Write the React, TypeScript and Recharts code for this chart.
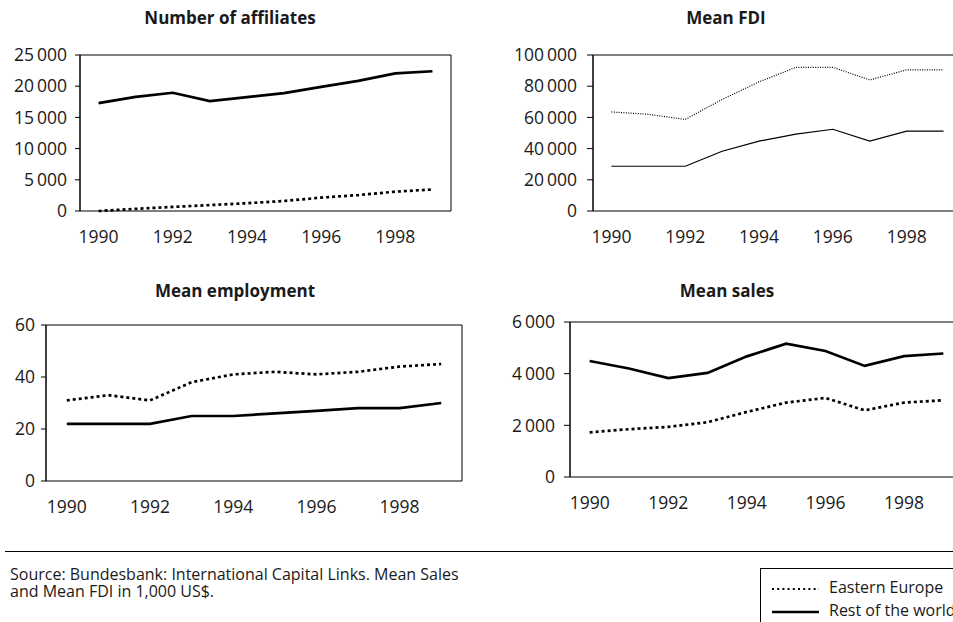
import { LineChart, Line, XAxis, YAxis, ReferenceArea } from "recharts";

const YEARS = [1990, 1991, 1992, 1993, 1994, 1995, 1996, 1997, 1998, 1999];
const YEAR_LABELS = [1990, 1992, 1994, 1996, 1998];
const BAND_EDGES = [1989.5, 1990.5, 1991.5, 1992.5, 1993.5, 1994.5, 1995.5, 1996.5, 1997.5, 1998.5, 1999.5];

// Number of affiliates
const affiliatesEast = [0, 350, 650, 950, 1250, 1600, 2150, 2550, 3100, 3450];
const affiliatesRest = [17300, 18300, 18950, 17600, 18250, 18900, 19900, 20850, 22050, 22400];
const affiliatesTicks = [0, 5000, 10000, 15000, 20000, 25000];

// Mean FDI (1,000 US$)
const fdiEast = [63500, 62000, 58700, 71500, 82800, 92100, 92100, 84000, 90500, 90500];
const fdiRest = [28700, 28700, 28700, 38300, 44800, 49300, 52400, 44800, 51200, 51200];
const fdiTicks = [0, 20000, 40000, 60000, 80000, 100000];

// Mean employment
const employmentEast = [31, 33, 31, 38, 41, 42, 41, 42, 44, 45];
const employmentRest = [22, 22, 22, 25, 25, 26, 27, 28, 28, 30];
const employmentTicks = [0, 20, 40, 60];

// Mean sales (1,000 US$)
const salesEast = [1730, 1850, 1940, 2120, 2520, 2880, 3060, 2580, 2880, 2970];
const salesRest = [4490, 4200, 3830, 4030, 4670, 5160, 4880, 4300, 4680, 4780];
const salesTicks = [0, 2000, 4000, 6000];

const FONT = "'Open Sans', sans-serif";
const INK = "#1a1a1a";
const TOP_PAD = 16;

const fmt = (v: number) => String(v).replace(/\B(?=(\d{3})+(?!\d))/g, "\u2009");

type PanelProps = {
  title: string;
  east: number[];
  rest: number[];
  yTicks: number[];
  left: number;
  plotTop: number;
  width: number;
  height: number;
  right: number;
  yWidth: number;
  yTickSize: number;
  yTickMargin: number;
  titleX: number;
  titleTop: number;
  thin?: boolean;
};

function Panel(p: PanelProps) {
  const data = YEARS.map((year, i) => ({ year, east: p.east[i], rest: p.rest[i] }));
  const yMax = p.yTicks[p.yTicks.length - 1];
  const sw = p.thin ? 1.2 : 2.7;
  const dash = p.thin ? "1 1.4" : "3 3";
  const tickStyle = { fill: INK, fontSize: 17.5, fontFamily: FONT };
  return (
    <>
      <div style={{
        position: "absolute", left: p.titleX - 150, width: 300, top: p.titleTop,
        textAlign: "center", fontWeight: 700, fontSize: 17, color: INK, lineHeight: "normal",
      }}>{p.title}</div>
      <div style={{ position: "absolute", left: p.left, top: p.plotTop - TOP_PAD }}>
        <LineChart width={p.width} height={p.height + TOP_PAD} data={data}
          margin={{ top: TOP_PAD, right: p.right, bottom: 0, left: 0 }}>
          <XAxis xAxisId="marks" type="number" dataKey="year" domain={[1989.5, 1999.5]}
            ticks={BAND_EDGES} interval={0} height={0} tickSize={5} tickFormatter={() => ""}
            axisLine={{ stroke: "#000" }} tickLine={{ stroke: "#000" }} />
          <XAxis xAxisId="labels" type="number" dataKey="year" domain={[1989.5, 1999.5]}
            ticks={YEAR_LABELS} interval={0} height={40} tickSize={0} tickMargin={20}
            axisLine={false} tickLine={false} tick={tickStyle} />
          <YAxis type="number" domain={[0, yMax]} ticks={p.yTicks} interval={0}
            width={p.yWidth} tickSize={p.yTickSize} tickMargin={p.yTickMargin}
            tickFormatter={fmt} tick={tickStyle}
            axisLine={{ stroke: "#000" }} tickLine={{ stroke: "#000" }} />
          <ReferenceArea xAxisId="marks" x1={1989.5} x2={1999.5} y1={0} y2={yMax}
            fill="none" fillOpacity={0} stroke="#000" strokeWidth={1} />
          <Line xAxisId="marks" dataKey="east" type="linear" stroke="#000" strokeWidth={sw}
            strokeDasharray={dash} dot={false} activeDot={false} isAnimationActive={false} />
          <Line xAxisId="marks" dataKey="rest" type="linear" stroke="#000" strokeWidth={sw}
            dot={false} activeDot={false} isAnimationActive={false} />
        </LineChart>
      </div>
    </>
  );
}

export default function App() {
  return (
    <div style={{
      position: "fixed", left: 0, top: 0, width: 953, height: 622, overflow: "hidden",
      background: "#fff", fontFamily: FONT, color: INK,
    }}>
      <Panel title="Number of affiliates" east={affiliatesEast} rest={affiliatesRest} yTicks={affiliatesTicks}
        left={0} plotTop={55} width={466} height={196} right={15} yWidth={80} yTickSize={5} yTickMargin={8}
        titleX={230} titleTop={6} />
      <Panel title="Mean FDI" east={fdiEast} rest={fdiRest} yTicks={fdiTicks}
        left={480} plotTop={55} width={487} height={196} right={5} yWidth={113} yTickSize={6} yTickMargin={10}
        titleX={726} titleTop={6} thin />
      <Panel title="Mean employment" east={employmentEast} rest={employmentRest} yTicks={employmentTicks}
        left={0} plotTop={325} width={467} height={196} right={5} yWidth={46} yTickSize={5} yTickMargin={6}
        titleX={235} titleTop={279} />
      <Panel title="Mean sales" east={salesEast} rest={salesRest} yTicks={salesTicks}
        left={480} plotTop={322} width={488} height={195} right={5} yWidth={90} yTickSize={6} yTickMargin={9}
        titleX={727} titleTop={279} />

      <div style={{ position: "absolute", left: 5, right: 0, top: 551, borderTop: "1px solid #000" }} />
      <div style={{ position: "absolute", left: 10, top: 566, fontSize: 16, lineHeight: "17px" }}>
        Source: Bundesbank: International Capital Links. Mean Sales
      </div>
      <div style={{ position: "absolute", left: 10, top: 583, fontSize: 16, lineHeight: "17px" }}>
        and Mean FDI in 1,000 US$.
      </div>

      <div style={{
        position: "absolute", left: 760, top: 568, width: 240, height: 80,
        border: "1px solid #000", fontSize: 16,
      }}>
        <svg width={60} height={60} style={{ position: "absolute", left: 0, top: 0 }}>
          <line x1={11} x2={58} y1={20} y2={20} stroke="#000" strokeWidth={2} strokeDasharray="2 3.2" />
          <line x1={11} x2={58} y1={43} y2={43} stroke="#000" strokeWidth={2.6} />
        </svg>
        <div style={{ position: "absolute", left: 68, top: 7, lineHeight: "22px" }}>Eastern Europe</div>
        <div style={{ position: "absolute", left: 68, top: 30, lineHeight: "22px" }}>Rest of the world</div>
      </div>
    </div>
  );
}
